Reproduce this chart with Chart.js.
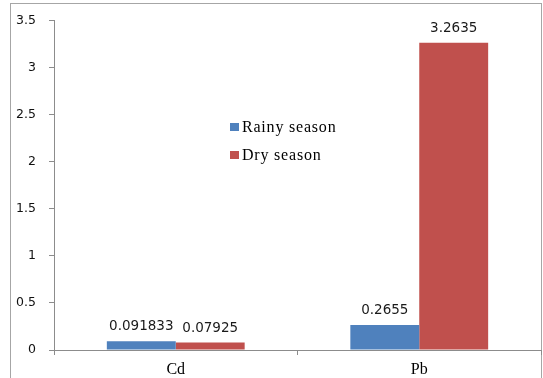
<!DOCTYPE html>
<html>
<head>
<meta charset="utf-8">
<script src="https://cdn.jsdelivr.net/npm/chart.js@4/dist/chart.umd.min.js"></script>
<style>
  html, body { margin: 0; padding: 0; background: #fff; }
  #wrap { width: 543px; height: 378px; position: relative; }
</style>
</head>
<body>
<div id="wrap"><canvas id="c" width="543" height="378"></canvas></div>
<script>
// Heavy metal concentrations by season
const categories = ['Cd', 'Pb'];
const rainySeason = [0.091833, 0.2655];
const drySeason = [0.07925, 3.2635];
const seriesNames = ['Rainy season', 'Dry season'];
const yTicks = [0, 0.5, 1, 1.5, 2, 2.5, 3, 3.5];

const BLUE = '#4F81BD';
const RED = '#C0504D';
const AXIS = '#8c8c8c';
const SERIF = '"Liberation Serif", "Times New Roman", serif';
const SANS = '"DejaVu Sans", Verdana, sans-serif';

// outer frame of the chart
const framePlugin = {
  id: 'frame',
  beforeDraw(chart) {
    const ctx = chart.ctx;
    ctx.save();
    ctx.fillStyle = '#fff';
    ctx.fillRect(0, 0, chart.width, chart.height);
    ctx.strokeStyle = '#a6a6a6';
    ctx.lineWidth = 1;
    ctx.strokeRect(10.5, 3.5, 531, 390);
    ctx.restore();
  }
};

// value labels above each bar
const valueLabels = {
  id: 'valueLabels',
  afterDatasetsDraw(chart) {
    const ctx = chart.ctx;
    ctx.save();
    ctx.font = '13.5px ' + SANS;
    ctx.fillStyle = '#1a1a1a';
    ctx.textAlign = 'center';
    ctx.textBaseline = 'alphabetic';
    chart.data.datasets.forEach((ds, i) => {
      chart.getDatasetMeta(i).data.forEach((bar, j) => {
        ctx.fillText(String(ds.data[j]), bar.x, bar.y - 11);
      });
    });
    ctx.restore();
  }
};

// legend placed inside the plot area
const innerLegend = {
  id: 'innerLegend',
  afterDraw(chart) {
    const ctx = chart.ctx;
    const colors = [BLUE, RED];
    ctx.save();
    ctx.font = '16px ' + SERIF;
    ctx.letterSpacing = '0.8px';
    ctx.textBaseline = 'middle';
    ctx.textAlign = 'left';
    seriesNames.forEach((name, i) => {
      const y = 127 + i * 28;
      ctx.fillStyle = colors[i];
      ctx.fillRect(230, y - 4, 9, 8);
      ctx.fillStyle = '#000';
      ctx.fillText(name, 242, y + 1);
    });
    ctx.restore();
  }
};

new Chart(document.getElementById('c'), {
  type: 'bar',
  data: {
    labels: categories,
    datasets: [
      { label: seriesNames[0], data: rainySeason, backgroundColor: BLUE },
      { label: seriesNames[1], data: drySeason, backgroundColor: RED }
    ]
  },
  options: {
    responsive: false,
    animation: false,
    devicePixelRatio: 1,
    layout: { padding: { left: 10, top: 15, right: 2, bottom: 0 } },
    datasets: { bar: { barPercentage: 1, categoryPercentage: 0.566 } },
    plugins: { legend: { display: false }, tooltip: { enabled: false } },
    scales: {
      x: {
        afterFit(s) { s.height = 28; },
        grid: { display: true, drawOnChartArea: false, offset: true, tickLength: 5, color: AXIS },
        border: { display: true, color: AXIS },
        ticks: { color: '#000', font: { family: SERIF, size: 16 }, padding: 5 }
      },
      y: {
        min: 0,
        max: 3.5,
        afterFit(s) { s.width = 44; },
        afterBuildTicks(s) { s.ticks = yTicks.map(v => ({ value: v })); },
        grid: { display: true, drawOnChartArea: false, tickLength: 5, color: AXIS },
        border: { display: true, color: AXIS },
        ticks: {
          color: '#111',
          font: { family: SANS, size: 12.5 },
          padding: 13,
          callback: v => String(v)
        }
      }
    }
  },
  plugins: [framePlugin, valueLabels, innerLegend]
});
</script>
</body>
</html>
